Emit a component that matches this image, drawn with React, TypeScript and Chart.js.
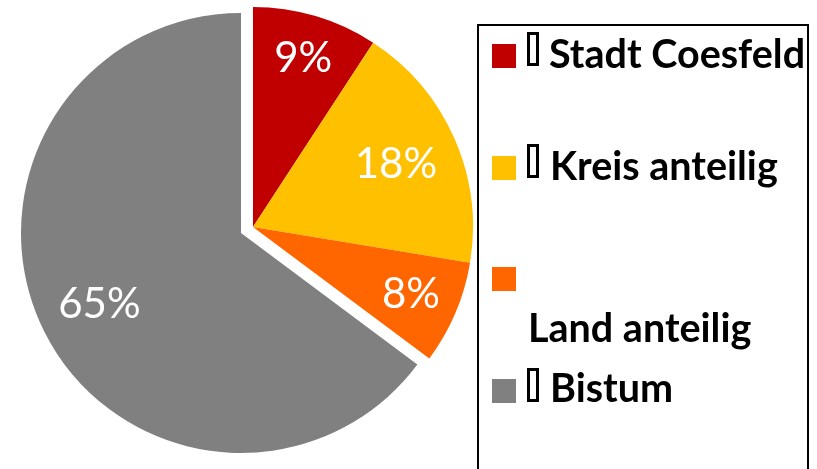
import React, { useEffect, useRef } from "react";
import { Chart, registerables } from "chart.js";

Chart.register(...registerables);

const categories = ["Stadt Coesfeld", "Kreis anteilig", "Land anteilig", "Bistum"];
const values = [9.2, 18.4, 7.6, 64.8];
const colors = ["#C00000", "#FFC000", "#FF6600", "#808080"];
const explodedSlices = [0, 1, 2];
const hasMarker = [true, true, false, true];

// style constants
const EXPLODE_DIST = 13.4;
const labelFrac = [0.8, 0.71, 0.78, 0.72];
const legendRows = [
  { sq: 44, tofu: 32, textLeft: 549, baseline: 68 },
  { sq: 156, tofu: 144, textLeft: 550, baseline: 180 },
  { sq: 267, tofu: 0, textLeft: 528, baseline: 342 },
  { sq: 379, tofu: 368, textLeft: 550, baseline: 402 },
];
const LEGEND_FONT = 39.5;

const explodePlugin = {
  id: "groupExplode",
  beforeDatasetsDraw(chart: any) {
    const meta = chart.getDatasetMeta(0);
    const area = chart.chartArea;
    const cx = (area.left + area.right) / 2;
    const cy = (area.top + area.bottom) / 2;
    const total = values.reduce((a, b) => a + b, 0);
    const groupSum = explodedSlices.reduce((a, i) => a + values[i], 0);
    const mid = (groupSum / total / 2) * Math.PI * 2;
    const dx = EXPLODE_DIST * Math.sin(mid);
    const dy = -EXPLODE_DIST * Math.cos(mid);
    meta.data.forEach((el: any, i: number) => {
      if (explodedSlices.includes(i)) {
        el.x = cx + dx;
        el.y = cy + dy;
      } else {
        el.x = cx;
        el.y = cy;
      }
    });
  },
  afterDatasetsDraw(chart: any) {
    const meta = chart.getDatasetMeta(0);
    const ctx = chart.ctx;
    const total = values.reduce((a, b) => a + b, 0);
    ctx.save();
    ctx.fillStyle = "#FFFFFF";
    ctx.font = "42px Lato";
    ctx.textAlign = "center";
    ctx.textBaseline = "middle";
    meta.data.forEach((el: any, i: number) => {
      const a = (el.startAngle + el.endAngle) / 2;
      const r = el.outerRadius * labelFrac[i];
      const x = el.x + Math.cos(a) * r;
      const y = el.y + Math.sin(a) * r;
      ctx.fillText(Math.round((values[i] / total) * 100) + "%", x, y);
    });
    ctx.restore();
  },
};

export default function App() {
  const canvasRef = useRef<HTMLCanvasElement | null>(null);

  useEffect(() => {
    if (!canvasRef.current) return;
    const chart = new Chart(canvasRef.current, {
      type: "pie",
      data: {
        labels: categories,
        datasets: [
          {
            data: values,
            backgroundColor: colors,
            borderWidth: 0,
            clip: false,
          } as any,
        ],
      },
      options: {
        responsive: true,
        maintainAspectRatio: false,
        animation: false,
        layout: { padding: { left: 21, top: 13, right: 19, bottom: 16 } },
        plugins: {
          legend: { display: false },
          tooltip: { enabled: false },
        },
      },
      plugins: [explodePlugin],
    });
    return () => chart.destroy();
  }, []);

  const baselineOffset = LEGEND_FONT * 0.887;

  return (
    <div
      style={{
        position: "fixed",
        left: 0,
        top: 0,
        width: 817,
        height: 469,
        background: "#fff",
        overflow: "hidden",
      }}
    >
      <div style={{ position: "absolute", left: 0, top: 0, width: 480, height: 469 }}>
        <canvas ref={canvasRef} />
      </div>
      <div
        style={{
          position: "absolute",
          left: 477,
          top: 24,
          width: 332,
          height: 480,
          border: "2px solid #000",
          boxSizing: "border-box",
        }}
      />
      {categories.map((c, i) => {
        const row = legendRows[i];
        return (
          <React.Fragment key={c}>
            <div
              style={{
                position: "absolute",
                left: 492,
                top: row.sq,
                width: 24,
                height: 24,
                background: colors[i],
              }}
            />
            {hasMarker[i] && (
              <div
                style={{
                  position: "absolute",
                  left: 527,
                  top: row.tofu,
                  width: 12,
                  height: 34,
                  border: "3px solid #000",
                  boxSizing: "border-box",
                }}
              />
            )}
            <div
              style={{
                position: "absolute",
                left: row.textLeft,
                top: row.baseline - baselineOffset,
                fontFamily: "Lato",
                fontWeight: 700,
                fontSize: LEGEND_FONT,
                lineHeight: 1,
                whiteSpace: "nowrap",
                color: "#000",
              }}
            >
              {c}
            </div>
          </React.Fragment>
        );
      })}
    </div>
  );
}
